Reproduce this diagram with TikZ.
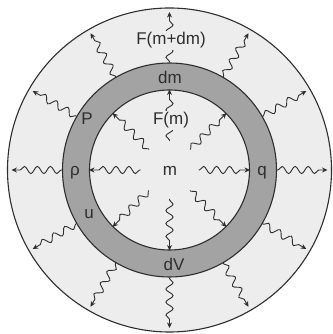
\documentclass[tikz,border=0pt]{standalone}
\usepackage{fontspec}
\setmainfont{Liberation Sans}
\usetikzlibrary{decorations.pathmorphing,arrows.meta,calc}
\definecolor{bgc}{gray}{0.93}
\definecolor{ringc}{gray}{0.64}
\definecolor{inkc}{gray}{0.18}
\begin{document}
\begin{tikzpicture}[x=1pt,y=1pt,
  wave/.style={draw=inkc, line width=0.9pt, decorate,
    decoration={snake, amplitude=3.6pt, segment length=13pt, pre length=1pt, post length=8pt},
    -{Stealth[length=5.5pt,width=5pt]}},
  lbl/.style={text=inkc, font=\fontsize{17}{19}\selectfont, inner sep=1.5pt, anchor=base},
  disc/.style={circle, draw=inkc, line width=1.1pt, inner sep=0pt}
]
\useasboundingbox (0,0) rectangle (332,334);
\coordinate (C) at (169.5,164);
\node[disc, fill=bgc, minimum size=324pt] (bg) at (C) {};
\node[disc, fill=ringc, minimum size=214pt] (ringout) at (C) {};
\node[disc, fill=bgc, minimum size=160pt] (ringin) at (C) {};
% outer radiation
\foreach \a in {0,30,...,330}{
  \coordinate (oe\a) at ($(C)+(\a:158)$);
  \draw[wave] (ringout.\a) -- (oe\a);
}
% inner radiation
\foreach \a in {0,45,...,315}{
  \coordinate (is\a) at ($(C)+(\a:29)$);
  \draw[wave] (is\a) -- (ringin.\a);
}
% labels
\node[lbl, fill=bgc] (Fmdm) at (171,289) {F(m+dm)};
\node[lbl] (dm) at (170,250) {dm};
\node[lbl, fill=bgc] (Fm) at (171,209) {F(m)};
\node[lbl] (P) at (87,209) {P};
\node[lbl] (rho) at (75,158) {ρ};
\node[lbl, fill=bgc] (m) at (170,158) {m};
\node[lbl] (q) at (262,158) {q};
\node[lbl] (u) at (89,115) {u};
\node[lbl] (dV) at (174,63) {dV};
\end{tikzpicture}
\end{document}
